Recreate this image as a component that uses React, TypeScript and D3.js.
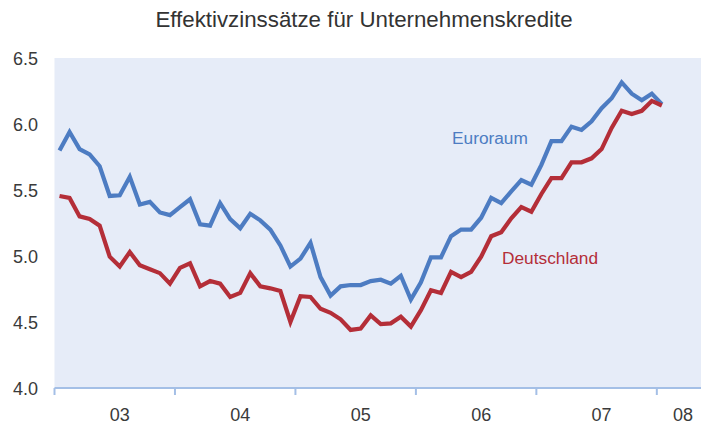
import React from "react";
import * as d3 from "d3";

const title = "Effektivzinssätze für Unternehmenskredite";
const euroraum = [
  5.80, 5.94, 5.81, 5.77, 5.68, 5.455, 5.46, 5.60, 5.39, 5.41, 5.33, 5.31,
  5.37, 5.43, 5.24, 5.23, 5.40, 5.28, 5.21, 5.32, 5.27, 5.20, 5.08, 4.92,
  4.98, 5.10, 4.84, 4.70, 4.77, 4.78, 4.78, 4.81, 4.82, 4.79, 4.85, 4.67,
  4.80, 4.99, 4.99, 5.15, 5.20, 5.20, 5.29, 5.44, 5.40, 5.49, 5.575, 5.54,
  5.69, 5.87, 5.87, 5.98, 5.955, 6.02, 6.12, 6.195, 6.315, 6.23, 6.18, 6.23,
  6.15,
];
const deutschland = [
  5.455, 5.44, 5.30, 5.28, 5.23, 4.995, 4.92, 5.03, 4.93, 4.90, 4.87, 4.79,
  4.91, 4.945, 4.77, 4.81, 4.79, 4.69, 4.72, 4.87, 4.77, 4.755, 4.735, 4.50,
  4.695, 4.69, 4.60, 4.57, 4.52, 4.44, 4.45, 4.55, 4.485, 4.49, 4.54, 4.465,
  4.59, 4.74, 4.72, 4.88, 4.84, 4.88, 4.995, 5.15, 5.18, 5.285, 5.37, 5.335,
  5.47, 5.59, 5.59, 5.71, 5.71, 5.74, 5.81, 5.97, 6.10, 6.075, 6.10, 6.175,
  6.14,
];
const yearLabels = ["03", "04", "05", "06", "07", "08"];
const yTicks = [4.0, 4.5, 5.0, 5.5, 6.0, 6.5];
const seriesNames = ["Euroraum", "Deutschland"];

const W = 701;
const H = 430;
const left = 54.5;
const top = 58;
const bottom = 388;

export default function App() {
  const x = d3.scaleLinear().domain([0, 64.4]).range([left, W]);
  const y = d3.scaleLinear().domain([4, 6.5]).range([bottom, top]);
  const line = d3
    .line<number>()
    .x((_, i) => x(i + 0.5))
    .y((d) => y(d));
  const yearTicks = d3.range(0, 61, 12);
  const labelPos = [6.5, 18.5, 30.5, 42.5, 54.5, 62.6];
  const font = "'Liberation Sans', Arial, sans-serif";
  return (
    <svg
      width={W}
      height={H}
      style={{ position: "absolute", left: 0, top: 0, fontFamily: font }}
    >
      <rect x={0} y={0} width={W} height={H} fill="#ffffff" />
      <rect x={left} y={top} width={W - left} height={bottom - top} fill="#E6ECF8" />
      <text x={364} y={27} textAnchor="middle" fontSize={22.3} fill="#333">
        {title}
      </text>
      {yTicks.map((t) => (
        <text key={t} x={38} y={y(t) + 6.5} textAnchor="end" fontSize={18} fill="#3a3a3a">
          {t.toFixed(1)}
        </text>
      ))}
      <line x1={left} x2={W} y1={bottom} y2={bottom} stroke="#A4BFE6" strokeWidth={2} />
      {yearTicks.map((t) => (
        <line key={t} x1={x(t)} x2={x(t)} y1={bottom} y2={bottom + 7} stroke="#A4BFE6" strokeWidth={2} />
      ))}
      {yearLabels.map((l, i) => (
        <text key={l} x={x(labelPos[i])} y={421} textAnchor="middle" fontSize={18} fill="#3a3a3a">
          {l}
        </text>
      ))}
      <path d={line(euroraum) || ""} fill="none" stroke="#4D7CC2" strokeWidth={4.2} strokeLinejoin="miter" />
      <path d={line(deutschland) || ""} fill="none" stroke="#B42E38" strokeWidth={4.2} strokeLinejoin="miter" />
      <text x={452} y={144} fontSize={17.3} fill="#4D7CC2">
        {seriesNames[0]}
      </text>
      <text x={502} y={264} fontSize={17.3} fill="#B42E38">
        {seriesNames[1]}
      </text>
    </svg>
  );
}
